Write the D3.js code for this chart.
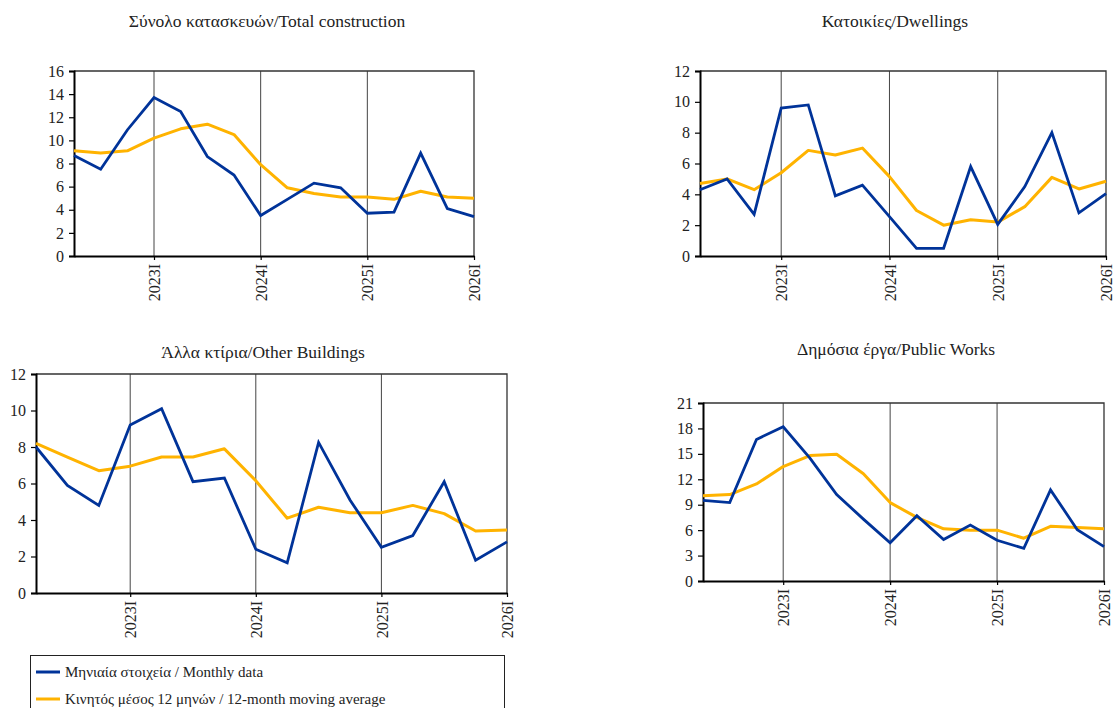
<!DOCTYPE html>
<html><head><meta charset="utf-8">
<script src="https://cdn.jsdelivr.net/npm/d3@7"></script>
<style>
body{margin:0;background:#fff;}
text{font-family:"Liberation Serif","DejaVu Serif",serif;fill:#222;}
</style></head>
<body><svg id="c" width="1115" height="708"></svg>
<script>
// ---- data ----
const categories = ["2022II","2022III","2022IV","2023I","2023II","2023III","2023IV","2024I","2024II","2024III","2024IV","2025I","2025II","2025III","2025IV","2026I"];
const yearTickLabels = ["2023I","2024I","2025I","2026I"];
const seriesNames = ["Μηνιαία στοιχεία / Monthly data","Κινητός μέσος 12 μηνών / 12-month moving average"];
const panelTitles = ["Σύνολο κατασκευών/Total construction","Κατοικίες/Dwellings","Άλλα κτίρια/Other Buildings","Δημόσια έργα/Public Works"];

const totalMonthly  = [8.7, 7.5, 10.9, 13.7, 12.5, 8.6, 7.0, 3.5, 4.9, 6.3, 5.9, 3.7, 3.8, 8.9, 4.1, 3.4];
const totalMA       = [9.1, 8.9, 9.1, 10.2, 11.0, 11.4, 10.5, 7.9, 5.9, 5.4, 5.1, 5.1, 4.9, 5.6, 5.1, 5.0];
const dwellMonthly  = [4.3, 5.0, 2.7, 9.6, 9.8, 3.9, 4.6, 2.55, 0.5, 0.5, 5.8, 2.05, 4.5, 8.0, 2.8, 4.05];
const dwellMA       = [4.7, 5.0, 4.3, 5.4, 6.85, 6.55, 7.0, 5.15, 2.95, 2.0, 2.35, 2.2, 3.2, 5.1, 4.35, 4.85];
const otherMonthly  = [8.0, 5.9, 4.8, 9.2, 10.1, 6.1, 6.3, 2.4, 1.65, 8.25, 5.1, 2.5, 3.15, 6.1, 1.8, 2.8];
const otherMA       = [8.2, 7.45, 6.7, 6.95, 7.45, 7.45, 7.9, 6.15, 4.1, 4.7, 4.4, 4.4, 4.8, 4.35, 3.4, 3.45];
const publicMonthly = [9.5, 9.25, 16.7, 18.2, 14.5, 10.2, 7.3, 4.5, 7.7, 4.9, 6.6, 4.8, 3.85, 10.75, 6.05, 4.05];
const publicMA      = [10.05, 10.2, 11.45, 13.5, 14.8, 14.95, 12.65, 9.25, 7.5, 6.15, 6.0, 6.0, 5.05, 6.45, 6.3, 6.15];

const yTicks1 = [0,2,4,6,8,10,12,14,16];
const yTicks2 = [0,2,4,6,8,10,12];
const yTicks3 = [0,2,4,6,8,10,12];
const yTicks4 = [0,3,6,9,12,15,18,21];

// ---- layout ----
const colors = ["#003399", "#FFB300"];
const FONT = '"Liberation Serif","DejaVu Serif",serif';
const panels = [
  {title: panelTitles[0], m: totalMonthly, a: totalMA, ticks: yTicks1, x0: 74, x1: 474, y0: 71, y1: 256, tx: 267, ty: 27},
  {title: panelTitles[1], m: dwellMonthly, a: dwellMA, ticks: yTicks2, x0: 700, x1: 1106, y0: 71, y1: 256, tx: 895, ty: 27},
  {title: panelTitles[2], m: otherMonthly, a: otherMA, ticks: yTicks3, x0: 36, x1: 507, y0: 374, y1: 593, tx: 263, ty: 358},
  {title: panelTitles[3], m: publicMonthly, a: publicMA, ticks: yTicks4, x0: 703, x1: 1104, y0: 403, y1: 581, tx: 896, ty: 355}
];

const svg = d3.select("#c");

panels.forEach(p => {
  const g = svg.append("g");
  const x = d3.scalePoint().domain(categories).range([p.x0, p.x1]);
  const y = d3.scaleLinear().domain([0, d3.max(p.ticks)]).range([p.y1, p.y0]);

  g.append("text").attr("x", p.tx).attr("y", p.ty).attr("text-anchor", "middle")
    .style("font-size", "17.5px").text(p.title);

  // vertical year lines
  g.selectAll(".vl").data(yearTickLabels.slice(0, 3)).join("line")
    .attr("x1", d => x(d)).attr("x2", d => x(d)).attr("y1", p.y0).attr("y2", p.y1)
    .attr("stroke", "#444").attr("stroke-width", 1);

  // frame top & right
  g.append("path").attr("d", `M${p.x0},${p.y0}H${p.x1}V${p.y1}`)
    .attr("fill", "none").attr("stroke", "#333").attr("stroke-width", 1.3);

  // y axis
  const ya = d3.axisLeft(y).tickValues(p.ticks).tickSize(5).tickPadding(5).tickFormat(d3.format("d"));
  const yg = g.append("g").attr("transform", `translate(${p.x0},0)`).call(ya);
  yg.select(".domain").attr("stroke", "#000").attr("stroke-width", 2);
  yg.selectAll(".tick line").attr("stroke", "#000").attr("stroke-width", 1.2);
  yg.selectAll(".tick text").style("font-size", "16px").attr("fill", "#222")
    .style("font-family", FONT);

  // x axis
  const xa = d3.axisBottom(x).tickValues(yearTickLabels).tickSize(4).tickSizeOuter(0);
  const xg = g.append("g").attr("transform", `translate(0,${p.y1})`).call(xa);
  xg.select(".domain").attr("stroke", "#000").attr("stroke-width", 2);
  xg.selectAll(".tick line").attr("stroke", "#000").attr("stroke-width", 1.2);
  xg.selectAll(".tick text").style("font-size", "16px").attr("fill", "#222")
    .style("font-family", FONT)
    .attr("text-anchor", "end").attr("transform", "rotate(-90)")
    .attr("x", -8).attr("y", 0).attr("dy", "0.35em");

  // lines
  const line = d3.line().x((d, i) => x(categories[i])).y(d => y(d));
  g.append("path").datum(p.a).attr("d", line).attr("fill", "none")
    .attr("stroke", colors[1]).attr("stroke-width", 3).attr("stroke-linejoin", "round");
  g.append("path").datum(p.m).attr("d", line).attr("fill", "none")
    .attr("stroke", colors[0]).attr("stroke-width", 2.8).attr("stroke-linejoin", "miter");
});

// legend
const lg = svg.append("g");
lg.append("rect").attr("x", 30.5).attr("y", 655.5).attr("width", 474).attr("height", 80)
  .attr("fill", "#fff").attr("stroke", "#222").attr("stroke-width", 1);
seriesNames.forEach((s, i) => {
  const yy = 672 + i * 27;
  lg.append("line").attr("x1", 36).attr("x2", 60).attr("y1", yy).attr("y2", yy)
    .attr("stroke", colors[i]).attr("stroke-width", 3);
  lg.append("text").attr("x", 65).attr("y", yy + 5).style("font-size", "15px").text(s);
});
</script></body></html>
